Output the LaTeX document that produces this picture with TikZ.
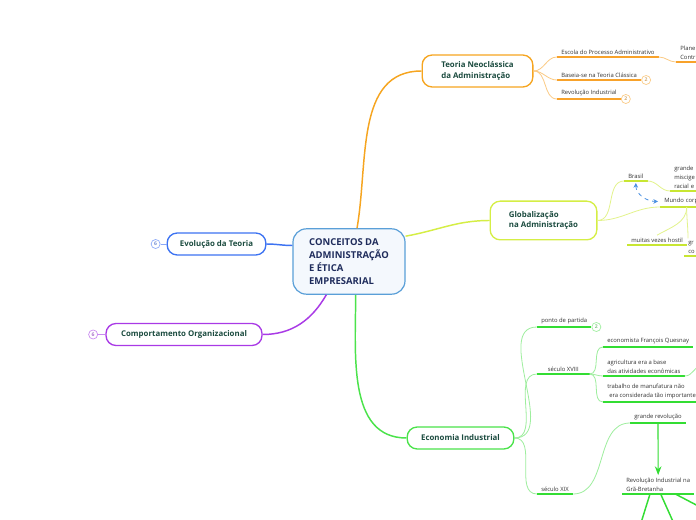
\documentclass[tikz,border=0pt]{standalone}
\usepackage{fontspec}
\setmainfont{Open Sans}
\usetikzlibrary{arrows.meta,positioning}
\definecolor{cenblue}{HTML}{5A9FD8}
\definecolor{cenfill}{HTML}{F4F8FD}
\definecolor{centext}{HTML}{1F2C5C}
\definecolor{topictext}{HTML}{1B4B3F}
\definecolor{leaftext}{HTML}{333333}
\definecolor{orangeM}{HTML}{F6A520}
\definecolor{orangeL}{HTML}{FBCB85}
\definecolor{orangeU}{HTML}{F8A22A}
\definecolor{blueM}{HTML}{3D73F2}
\definecolor{blueL}{HTML}{8AA8F8}
\definecolor{purpleM}{HTML}{A93AE6}
\definecolor{purpleL}{HTML}{C98AF0}
\definecolor{limeM}{HTML}{D5EE45}
\definecolor{limeL}{HTML}{E3F38C}
\definecolor{limeU}{HTML}{C8E632}
\definecolor{greenM}{HTML}{4BE34B}
\definecolor{greenL}{HTML}{9EEE9E}
\definecolor{greenU}{HTML}{33DD33}
\definecolor{dashblue}{HTML}{4A90E2}

\begin{document}
\begin{tikzpicture}[
    x=0.75pt, y=-0.75pt,
    >=Stealth,
    topic/.style={
      draw=#1, line width=1pt, rounded corners=7.5pt, fill=white,
      font=\bfseries\fontsize{5.9}{7.6}\selectfont, text=topictext,
      align=left, inner sep=2pt,
    },
    leaf/.style={
      anchor=south west, font=\fontsize{4.4}{6.8}\selectfont, text=leaftext,
      align=left, inner xsep=3pt, inner ysep=1.8pt,
    },
    uline/.style={line width=1.5pt, #1},
    twig/.style={line width=0.6pt, #1},
    limb/.style={line width=1.1pt, #1},
    badge/.style={
      circle, draw=#1, line width=0.5pt, fill=white, text=#1!85!black,
      font=\bfseries\fontsize{3.8}{3.8}\selectfont, inner sep=0pt, minimum size=6.8pt,
    },
  ]

  \fill[white] (0,0) rectangle (696,520);
  \useasboundingbox (0,0) rectangle (696,520);

  % =================== Central idea ===================
  \node[draw=cenblue, line width=0.9pt, fill=cenfill, rounded corners=10pt,
        minimum width=84pt, minimum height=49pt, align=left,
        font=\bfseries\fontsize{7.1}{9.9}\selectfont, text=centext]
    (cen) at (349,261.5) {CONCEITOS DA\\ADMINISTRAÇÃO\\E ÉTICA\\EMPRESARIAL};

  % =================== Main topics ===================
  \node[topic=orangeM, minimum width=83pt, minimum height=24pt] (teo) at (477.5,71) {Teoria Neoclássica\\da Administração};
  \node[topic=blueM, minimum width=74pt, minimum height=16.5pt] (evo) at (216.5,244) {Evolução da Teoria};
  \node[topic=purpleM, minimum width=117pt, minimum height=16.5pt] (comp) at (184,334.5) {Comportamento Organizacional};
  \node[topic=limeM, minimum width=80pt, minimum height=29pt] (glob) at (543.5,220.5) {Globalização\\na Administração};
  \node[topic=greenM, minimum width=80pt, minimum height=16.5pt] (eco) at (460.5,438) {Economia Industrial};

  \draw[limb=orangeM] ([xshift=6pt]cen.north) to[out=80,in=180] (teo.west);
  \draw[limb=blueM] ([yshift=12pt]cen.west) to[out=180,in=0] (evo.east);
  \draw[limb=purpleM] ([xshift=-17pt]cen.south) to[out=-120,in=0] (comp.east);
  \draw[limb=limeM] ([yshift=19pt]cen.east) to[out=10,in=180] (glob.west);
  \draw[limb=greenM] ([xshift=5pt]cen.south) to[out=-90,in=180] (eco.west);

  % collapsed counters
  \node[badge=blueL, left=4.5pt of evo] (evob) {6};
  \draw[twig=blueL] (evob) -- (evo);
  \node[badge=purpleL, left=5.5pt of comp] (compb) {6};
  \draw[twig=purpleL] (compb) -- (comp);

  % =================== Teoria Neoclássica ===================
  \node[leaf] (esc) at (557,57) {Escola do Processo Administrativo};
  \node[leaf] (bas) at (557,80) {Baseia-se na Teoria Clássica};
  \node[leaf] (rev) at (557,99) {Revolução Industrial};
  \node[leaf, text width=30pt] (pla) at (676,62) {Plane\\Contr};

  \foreach \n in {esc,bas,rev,pla}
    \draw[uline=orangeU] (\n.south west) -- (\n.south east);
  \foreach \n in {esc,bas,rev}
    \draw[twig=orangeL] (teo.east) to[out=0,in=180] (\n.south west);
  \draw[twig=orangeL] (esc.south east) to[out=0,in=180] (pla.south west);

  \node[badge=orangeL, anchor=west] (basb) at (bas.south east) {2};
  \node[badge=orangeL, anchor=west] (revb) at (rev.south east) {2};

  % =================== Globalização ===================
  \node[leaf] (bra) at (624,181) {Brasil};
  \node[leaf, text width=30pt] (mis) at (670,191) {grande\\miscige\\racial e};
  \node[leaf, text width=40pt] (mun) at (660,207) {Mundo corp};
  \node[leaf] (hos) at (627,245) {muitas vezes hostil};
  \node[leaf, text width=20pt] (gco) at (684,256) {gr\\co};

  \foreach \n in {bra,mis,mun,hos,gco}
    \draw[uline=limeU] (\n.south west) -- (\n.south east);
  \draw[twig=limeL] (glob.east) to[out=0,in=180] (bra.south west);
  \draw[twig=limeL] (glob.east) to[out=0,in=180] (mun.south west);
  \draw[twig=limeL] (bra.south east) to[out=0,in=180] (mis.south west);

  \coordinate (munb) at ([xshift=20pt]mun.south west);
  \draw[twig=limeL] (munb) to[out=-90,in=30] (hos.north);
  \draw[twig=limeL] (munb) to[out=-90,in=90] ([xshift=3pt]gco.north west);

  \draw[twig=dashblue, dashed, {Stealth[length=3.5pt,width=3.5pt]}-{Stealth[length=3.5pt,width=3.5pt]}]
    ([yshift=-1.5pt]bra.south) to[out=-90,in=180] ([xshift=-1.5pt]mun.west);

  % =================== Economia Industrial ===================
  \node[leaf] (pon) at (537,327) {ponto de partida};
  \node[leaf, minimum width=39pt] (s18) at (537,374) {século XVIII};
  \node[leaf] (s19) at (537,494) {século XIX};

  \node[leaf] (que) at (603,347) {economista François Quesnay};
  \node[leaf] (agr) at (603,376) {agricultura era a base\\das atividades econômicas};
  \node[leaf] (tra) at (603,402) {trabalho de manufatura não\\\hspace*{1.5pt}era considerada tão importante};

  \node[leaf] (gre) at (630,423) {grande revolução};
  \node[leaf, minimum width=51pt] (rig) at (622,494) {Revolução Industrial na\\Grã-Bretanha};

  \foreach \n in {pon,s18,s19,que,agr,tra,gre,rig}
    \draw[uline=greenU] (\n.south west) -- (\n.south east);
  \foreach \n in {pon,s18,s19}
    \draw[twig=greenL] (eco.east) to[out=0,in=180] (\n.south west);
  \foreach \n in {que,agr,tra}
    \draw[twig=greenL] (s18.south east) to[out=0,in=180] (\n.south west);
  \draw[twig=greenL] (s19.south east) to[out=0,in=180] (gre.south west);

  \coordinate (agrx) at (702,364);
  \draw[twig=greenL] (agr.south east) to[out=0,in=200] (agrx);

  \node[badge=greenL, anchor=west] (ponb) at (pon.south east) {2};

  \draw[->, line width=0.8pt, greenU] (gre.south) -- (rig.north);

  % branches leaving the page
  \coordinate (riga) at (640,526);
  \coordinate (rigb) at (675,526);
  \coordinate (rigc) at (702,508);
  \draw[line width=1.1pt, greenU] ([xshift=21pt]rig.south west) -- (riga);
  \draw[line width=1.1pt, greenU] ([xshift=29pt]rig.south west) -- (rigb);
  \draw[line width=1.1pt, greenU] ([xshift=40pt]rig.south west) -- (rigc);

\end{tikzpicture}
\end{document}
